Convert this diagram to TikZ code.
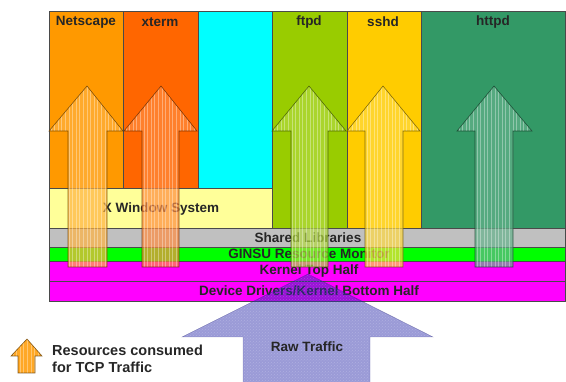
\documentclass[tikz,border=0pt]{standalone}
\usepackage{fontspec}
\setmainfont{Liberation Sans}
\usetikzlibrary{patterns}
\definecolor{cNet}{HTML}{FF9900}
\definecolor{cXterm}{HTML}{FF6600}
\definecolor{cCyan}{HTML}{00FFFF}
\definecolor{cFtp}{HTML}{99CC00}
\definecolor{cSsh}{HTML}{FFCC00}
\definecolor{cHttp}{HTML}{339966}
\definecolor{cXwin}{HTML}{FFFF99}
\definecolor{cShared}{HTML}{C0C0C0}
\definecolor{cGinsu}{HTML}{00FF00}
\definecolor{cKern}{HTML}{FF00FF}
\definecolor{cRaw}{HTML}{2A2AAA}
\definecolor{edge}{HTML}{4A4A4A}
\def\arrop{0.7}
\def\arrmix{75}
\newcommand{\resarrow}[9]{%
  % #1 tip x, #2 tip y, #3 head left, #4 head right, #5 shaft left, #6 shaft right, #7 head base y, #8 bottom y, #9 colour
  \begin{scope}
    \clip (#1,#2) -- (#4,#7) -- (#6,#7) -- (#6,#8) -- (#5,#8) -- (#5,#7) -- (#3,#7) -- cycle;
    \fill[#9!\arrmix!white, opacity=\arrop] (#3,#2) rectangle (#4,#8);
    \foreach \i in {0,...,20}{
      \draw[white, opacity=0.35, line width=0.9pt] ({#3+2+\i*3.6},#2) -- ({#3+2+\i*3.6},#8);
    }
  \end{scope}
  \draw[#9!40!black, line width=0.6pt, opacity=0.8] (#1,#2) -- (#4,#7) -- (#6,#7) -- (#6,#8) -- (#5,#8) -- (#5,#7) -- (#3,#7) -- cycle;
}
\tikzset{
  box/.style={draw=edge, line width=0.5pt},
  lbl/.style={font=\bfseries\fontsize{13.5}{14}\selectfont, inner sep=0pt, text=black!85},
}
\begin{document}
\begin{tikzpicture}[x=1pt,y=-1pt]
\useasboundingbox (0,0) rectangle (566,382);
% application columns
\fill[box, fill=cNet] (49,11) rectangle (123,188);
\fill[box, fill=cXterm] (123,11) rectangle (198,188);
\fill[box, fill=cCyan] (198,11) rectangle (272,188);
\fill[box, fill=cFtp] (272,11) rectangle (347,228);
\fill[box, fill=cSsh] (347,11) rectangle (421,228);
\fill[box, fill=cHttp] (421,11) rectangle (565,228);
\fill[box, fill=cXwin] (49,188) rectangle (272,228);
% layers
\fill[box, fill=cShared] (49,228) rectangle (565,247);
\fill[box, fill=cGinsu] (49,247) rectangle (565,261);
\fill[box, fill=cKern] (49,261) rectangle (565,281);
\fill[box, fill=cKern] (49,281) rectangle (565,301);
% labels
\node[lbl] (net) at (86,22) {Netscape};
\node[lbl] (xterm) at (160,22) {xterm};
\node[lbl] (ftpd) at (309,22) {ftpd};
\node[lbl] (sshd) at (383,22) {sshd};
\node[lbl] (httpd) at (493,22) {httpd};
\node[lbl] (xwin) at (161,209) {X Window System};
\node[lbl] (shared) at (308,238) {Shared Libraries};
\node[lbl] (ginsu) at (309,254) {GINSU Resource Monitor};
\node[lbl] (ktop) at (309,271) {Kernel Top Half};
\node[lbl] (kbot) at (309,291) {Device Drivers/Kernel Bottom Half};
% resource arrows
\resarrow{87}{86}{49}{123}{68}{107}{131}{267}{cNet}
\resarrow{161}{86}{124}{197}{142}{179}{131}{267}{cXterm}
\resarrow{309}{86}{272}{346}{291}{328}{131}{267}{cFtp}
\resarrow{383}{86}{347}{420}{365}{403}{131}{267}{cSsh}
\resarrow{494}{86}{457}{532}{475}{513}{131}{267}{cHttp}
% raw traffic arrow
\fill[cRaw, opacity=0.47] (308,274) -- (433,337) -- (370,337) -- (370,383) -- (243,383) -- (243,337) -- (182,337) -- cycle;
\fill[pattern=crosshatch dots, pattern color=white, opacity=0.2] (308,274) -- (433,337) -- (370,337) -- (370,383) -- (243,383) -- (243,337) -- (182,337) -- cycle;
\draw[cRaw!60!black, line width=0.4pt, opacity=0.4] (308,274) -- (433,337) -- (370,337) -- (370,383) -- (243,383) -- (243,337) -- (182,337) -- cycle;
\node[lbl] (raw) at (307,347) {Raw Traffic};
% legend
\def\arrop{1}
\def\arrmix{85}
\resarrow{27}{339}{11}{42}{18}{35}{356}{373}{cNet}
\node[font=\bfseries\fontsize{14.5}{17}\selectfont, align=left, anchor=west, inner sep=0pt, text=black!85] (legend) at (52,359) {Resources consumed\\for TCP Traffic};
\end{tikzpicture}
\end{document}
